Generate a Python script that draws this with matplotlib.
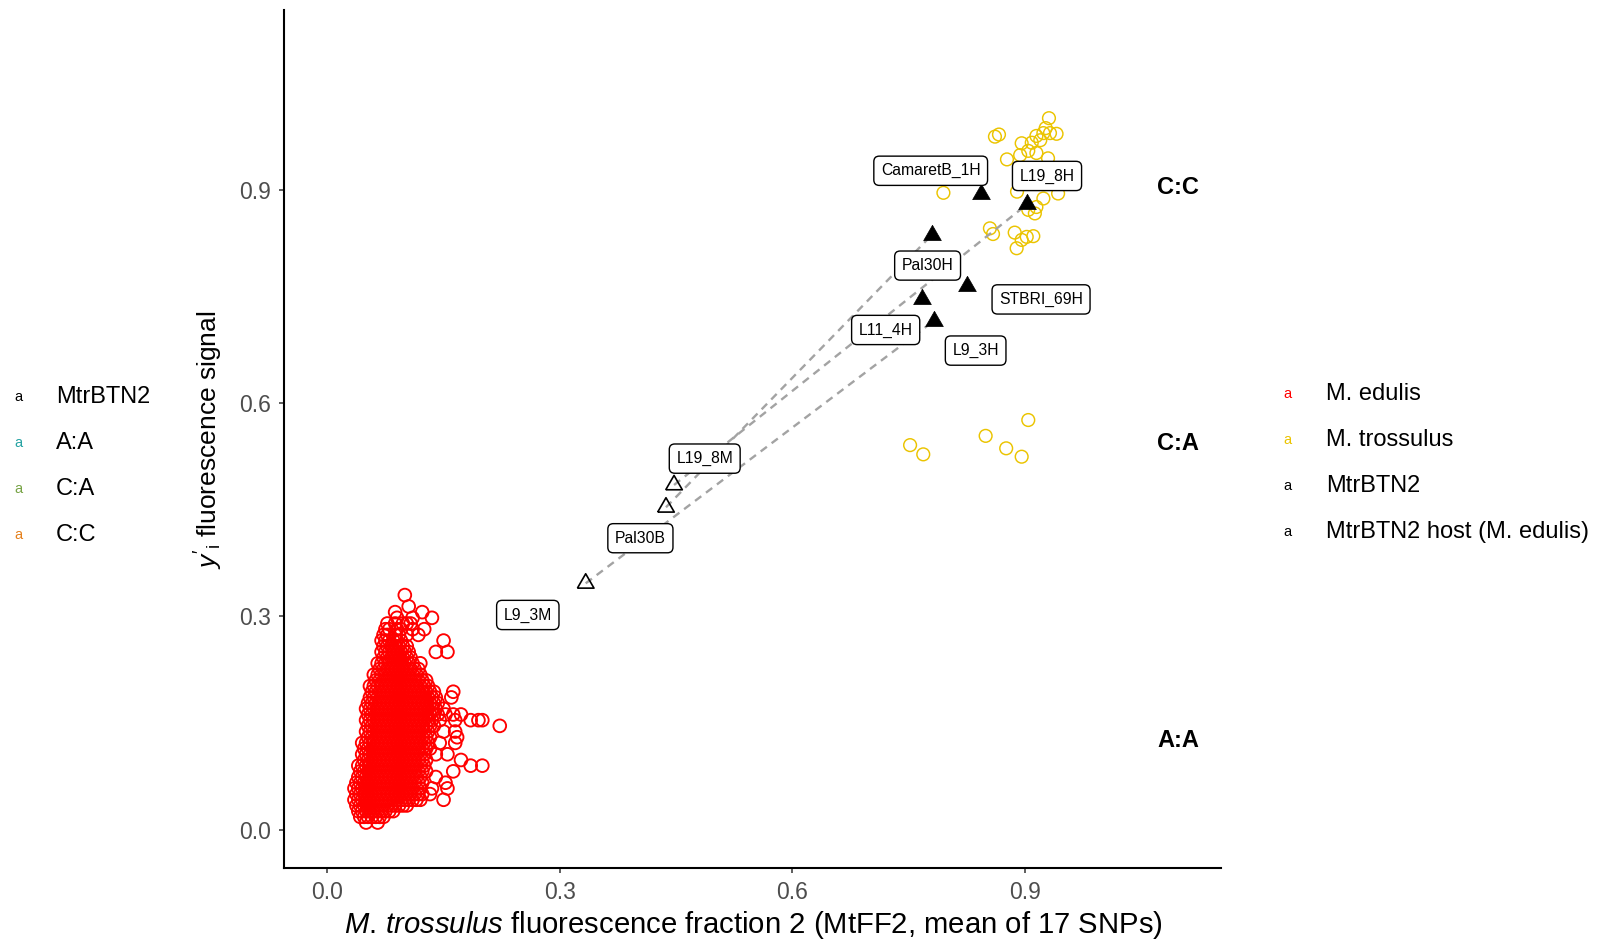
import matplotlib
matplotlib.use('Agg')
import matplotlib.pyplot as plt
import numpy as np

plt.rcParams['font.family'] = ['Liberation Sans', 'DejaVu Sans']
plt.rcParams['mathtext.fontset'] = 'custom'
plt.rcParams['mathtext.rm'] = 'Liberation Sans'
plt.rcParams['mathtext.it'] = 'Liberation Sans:italic'

# M. trossulus (amarillo)
tros_x = [0.8615, 0.8667, 0.9312, 0.927, 0.9325, 0.941, 0.924, 0.915, 0.920, 0.909,
          0.896, 0.9045, 0.915, 0.930, 0.894, 0.877, 0.795, 0.890, 0.943, 0.924,
          0.915, 0.913, 0.9045, 0.855, 0.859, 0.887, 0.9025, 0.911, 0.8895, 0.896,
          0.752, 0.769, 0.8495, 0.876, 0.896, 0.9045]
tros_y = [0.975, 0.978, 1.001, 0.987, 0.980, 0.979, 0.980, 0.976, 0.970, 0.9665,
          0.9657, 0.955, 0.952, 0.9445, 0.949, 0.943, 0.896, 0.8976, 0.895, 0.888,
          0.876, 0.867, 0.872, 0.846, 0.838, 0.840, 0.834, 0.835, 0.818, 0.8297,
          0.541, 0.528, 0.554, 0.5365, 0.5247, 0.5763]

# M. edulis (rojo): mapa de la nube, cada '#' es un punto
# columna j -> x = 0.025 + 0.005*j (filas impares desplazadas media columna)
# fila i -> y = 0.330 - 0.008*i
edulis_x0, edulis_dx = 0.025, 0.005
edulis_y0, edulis_dy = 0.330, 0.008
edulis_map = [
    "...............#",
    "",
    "................#",
    "............#......#",
    ".............#...#....#",
    "..........#.#.###",
    "..........##.##..#..#",
    ".........##.##.#..#",
    ".........######..........#",
    ".........#######",
    ".........########......#..#",
    ".........########",
    "........##########.#",
    "........###########",
    ".......#############",
    ".......##############",
    "......################",
    "......#################....#",
    "......##################...#",
    ".....###################",
    ".....###################.#",
    ".....###################.#.#.#",
    ".....##################.#...#...#.##",
    ".....##################................#",
    ".....#################...#..#",
    ".....#################......#",
    "....##################..#...#",
    "....##################",
    "....#################..#..#",
    "....#################........#",
    "...##################...........#..#",
    "...##################......#",
    "...#################...#",
    "..##################.....#",
    "..##################..#...#",
    "..##################.#",
    "..##################.....#",
    "..##############",
    "...##########",
    "...#######",
    ".....#..#",
]

# MtrBTN2
btn_names = ['CamaretB_1H', 'L19_8H', 'Pal30H', 'STBRI_69H', 'L11_4H', 'L9_3H',
             'L19_8M', 'Pal30B', 'L9_3M']
btn_x = [0.843, 0.9032, 0.780, 0.826, 0.768, 0.783, 0.4474, 0.437, 0.3334]
btn_y = [0.894, 0.880, 0.8366, 0.765, 0.7466, 0.716, 0.4849, 0.4535, 0.3465]
btn_host = [False, False, False, False, False, False, True, True, True]
pares = [('L19_8M', 'L19_8H'), ('Pal30B', 'Pal30H'), ('L9_3M', 'L9_3H')]

# posiciones de las etiquetas (repel)
lab_x = [0.7786, 0.9287, 0.7746, 0.921, 0.7205, 0.8366, 0.487, 0.404, 0.2587]
lab_y = [0.927, 0.9197, 0.7936, 0.746, 0.703, 0.674, 0.522, 0.410, 0.302]

geno_labels = ['C:C', 'C:A', 'A:A']
geno_y = [0.904, 0.5434, 0.125]
geno_x = 1.098

ticks = [0.0, 0.3, 0.6, 0.9]

leg_izq = ['MtrBTN2', 'A:A', 'C:A', 'C:C']
leg_izq_col = ['black', '#26A3A3', '#77A345', '#E5801C']
leg_der = ['M. edulis', 'M. trossulus', 'MtrBTN2', 'MtrBTN2 host (M. edulis)']
leg_der_col = ['#FF0000', '#EBC400', 'black', 'black']

# puntos de la nube roja
ed_x, ed_y = [], []
for i, fila in enumerate(edulis_map):
    for j, c in enumerate(fila):
        if c == '#':
            ed_x.append(edulis_x0 + edulis_dx * (j + 0.5 * (i % 2)))
            ed_y.append(edulis_y0 - edulis_dy * i)

W, H = 1602, 941
fig = plt.figure(figsize=(W / 100, H / 100), dpi=100)
ax = fig.add_axes([284 / W, 1 - 868 / H, (1221 - 284) / W, (868 - 10) / H])
ax.set_xlim(-0.0559, 1.1532)
ax.set_ylim(-0.054, 1.1532)

ax.scatter(ed_x, ed_y, s=84, facecolors='none', edgecolors='#FF0000', linewidths=1.35, zorder=2)
ax.scatter(tros_x, tros_y, s=84, facecolors='none', edgecolors='#EBC400', linewidths=1.05, zorder=2)

# líneas discontinuas entre pares
idx = {n: k for k, n in enumerate(btn_names)}
for a, b in pares:
    ax.plot([btn_x[idx[a]], btn_x[idx[b]]], [btn_y[idx[a]], btn_y[idx[b]]],
            color='#A3A3A3', lw=1.7, dashes=(3.3, 2.5), zorder=3)

tri = [(-1, -0.577), (1, -0.577), (0, 1.155), (-1, -0.577)]
hx = [x for x, h in zip(btn_x, btn_host) if not h]
hy = [y for y, h in zip(btn_y, btn_host) if not h]
mx = [x for x, h in zip(btn_x, btn_host) if h]
my = [y for y, h in zip(btn_y, btn_host) if h]
ax.scatter(hx, hy, s=215, marker=tri, facecolors='black', edgecolors='black', linewidths=0.5, zorder=4)
ax.scatter(mx, my, s=190, marker=tri, facecolors='none', edgecolors='black', linewidths=1.2, zorder=4)

for n, x, y in zip(btn_names, lab_x, lab_y):
    ax.text(x, y, n, ha='center', va='center', fontsize=11.3, zorder=6,
            bbox=dict(boxstyle='round,pad=0.45,rounding_size=0.35', fc='white', ec='black', lw=1.0))

for t, y in zip(geno_labels, geno_y):
    ax.text(geno_x, y, t, ha='center', va='center', fontsize=17, fontweight='bold', clip_on=False)

for s in ['top', 'right']:
    ax.spines[s].set_visible(False)
for s in ['left', 'bottom']:
    ax.spines[s].set_linewidth(1.5)
ax.set_xticks(ticks)
ax.set_yticks(ticks)
ax.set_xticklabels([f'{t:.1f}' for t in ticks])
ax.set_yticklabels([f'{t:.1f}' for t in ticks])
ax.tick_params(length=3.6, width=1.1, color='#333333', labelcolor='#4D4D4D', labelsize=16.5, pad=6)

fig.text(209 / W, 1 - 440 / H, r"$y'_{\mathrm{i}}$ fluorescence signal", rotation=90,
         ha='center', va='center', fontsize=19)
fig.text(753.5 / W, 1 - 925 / H, r"$\mathit{M.\,trossulus}$ fluorescence fraction 2 (MtFF2, mean of 17 SNPs)",
         ha='center', va='center', fontsize=21.1)

# leyendas
for k, (t, c) in enumerate(zip(leg_izq, leg_izq_col)):
    yy = 1 - (397 + 46 * k) / H
    fig.text(18.4 / W, yy, 'a', color=c, ha='center', va='center', fontsize=10.5)
    fig.text(56 / W, yy, t, ha='left', va='center', fontsize=17)
for k, (t, c) in enumerate(zip(leg_der, leg_der_col)):
    yy = 1 - (394 + 46 * k) / H
    fig.text(1287 / W, yy, 'a', color=c, ha='center', va='center', fontsize=10.5)
    fig.text(1326 / W, yy, t, ha='left', va='center', fontsize=17)

fig.savefig('out.png', dpi=100)
